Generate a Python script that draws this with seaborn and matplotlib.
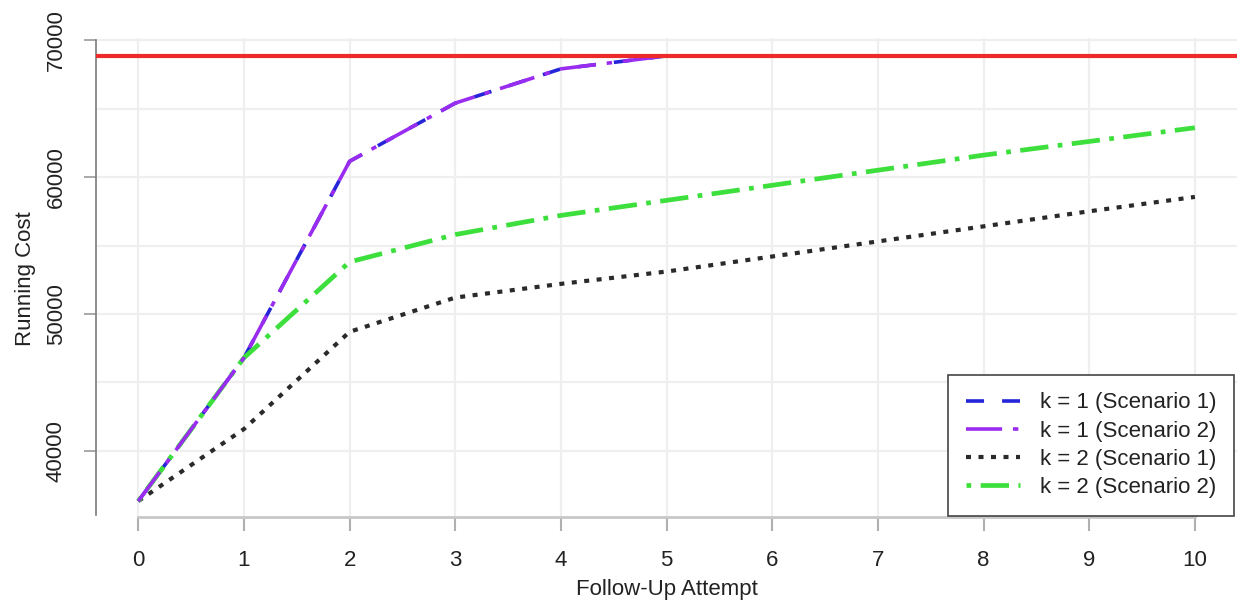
import matplotlib

matplotlib.use("Agg")
import matplotlib.pyplot as plt
import numpy as np
import pandas as pd
import seaborn as sns

# values
attempts = list(range(11))
k1_attempts = [0, 1, 2, 3, 4, 5]
k1_s1_cost = [36340, 46800, 61150, 65400, 67900, 68850]
k1_s2_cost = [36340, 46800, 61150, 65400, 67900, 68850]
k2_s1_cost = [36340, 41600, 48700, 51200, 52200, 53100, 54200, 55300, 56400, 57500, 58550]
k2_s2_cost = [36340, 46800, 53800, 55800, 57200, 58300, 59400, 60500, 61600, 62600, 63600]
budget = 68850

series_labels = [
    "k = 1 (Scenario 1)",
    "k = 1 (Scenario 2)",
    "k = 2 (Scenario 1)",
    "k = 2 (Scenario 2)",
]
y_ticks = [40000, 50000, 60000, 70000]
y_minor = [45000, 55000, 65000]

sns.set_style("white")
plt.rcParams["font.family"] = ["Liberation Sans", "DejaVu Sans"]

fig = plt.figure(figsize=(12.39, 6.09), dpi=100)
ax = fig.add_axes([0.0775, 0.148, 0.921, 0.7895])

df1 = pd.DataFrame({"attempt": k1_attempts, "s1": k1_s1_cost, "s2": k1_s2_cost})
df2 = pd.DataFrame({"attempt": attempts, "s1": k2_s1_cost, "s2": k2_s2_cost})

sns.lineplot(data=df1, x="attempt", y="s1", ax=ax, color="#2424d8", lw=2.6,
             linestyle=(0, (5, 5)), label=series_labels[0], zorder=3)
sns.lineplot(data=df1, x="attempt", y="s2", ax=ax, color="#9a2cf0", lw=2.6,
             linestyle=(0, (10, 3, 1.5, 3)), label=series_labels[1], zorder=4)
sns.lineplot(data=df2, x="attempt", y="s1", ax=ax, color="#2a2a2a", lw=3,
             linestyle=(0, (1.2, 1.8)), label=series_labels[2], zorder=3)
sns.lineplot(data=df2, x="attempt", y="s2", ax=ax, color="#3ddf3d", lw=3.4,
             linestyle=(0, (1, 2, 6, 2)), label=series_labels[3], zorder=3)

# budget limit
ax.axhline(budget, color="#ec2a2a", lw=3, zorder=5)

ax.set_xlim(-0.4, 10.4)
ax.set_ylim(35040, 70150)
ax.set_xticks(attempts)
ax.set_yticks(y_ticks)
ax.set_yticks(y_minor, minor=True)
ax.tick_params(axis="y", which="minor", length=0)
ax.grid(True, which="both", color="#efefef", lw=1.6, zorder=0)
ax.set_axisbelow(True)

for side in ["top", "right"]:
    ax.spines[side].set_visible(False)
ax.spines["left"].set_color("#7a7a7a")
ax.spines["left"].set_linewidth(1.2)
ax.spines["left"].set_bounds(35300, 70000)
ax.spines["bottom"].set_color("#c8c8c8")
ax.spines["bottom"].set_linewidth(2)
ax.spines["bottom"].set_bounds(0, 10)
ax.spines["bottom"].set_position(("data", 35200))

ax.tick_params(axis="x", which="major", length=10, width=1.5, color="#b0b0b0",
               labelsize=16, pad=14, bottom=True, labelcolor="#222222")
ax.tick_params(axis="y", which="major", length=9, width=1.2, color="#9a9a9a",
               labelsize=16, pad=12, left=True, labelcolor="#222222")
for lab in ax.get_yticklabels():
    lab.set_rotation(90)
    lab.set_va("center")

ax.set_xlabel("Follow-Up Attempt", fontsize=16, labelpad=6, color="#222222")
ax.set_ylabel("Running Cost", fontsize=16, labelpad=7, color="#222222")

leg = ax.legend(loc="lower right", borderaxespad=0.15, fontsize=16,
                handlelength=2.4, handletextpad=0.9, frameon=True,
                fancybox=False, framealpha=1, labelspacing=0.32,
                borderpad=0.8)
leg.get_frame().set_edgecolor("#444444")
leg.get_frame().set_linewidth(1.2)
for txt in leg.get_texts():
    txt.set_color("#222222")

fig.savefig("out.png", dpi=100)
